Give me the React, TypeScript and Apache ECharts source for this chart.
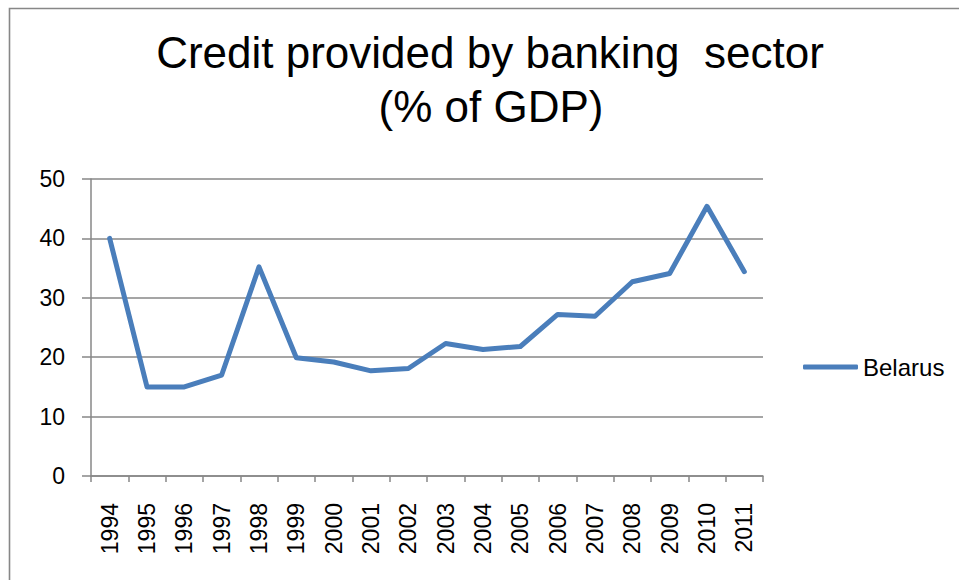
import React, { useEffect, useRef } from "react";
import * as echarts from "echarts";

const years: string[] = [
  "1994", "1995", "1996", "1997", "1998", "1999", "2000", "2001", "2002",
  "2003", "2004", "2005", "2006", "2007", "2008", "2009", "2010", "2011",
];
const belarus: number[] = [
  40.0, 15.0, 15.0, 17.0, 35.2, 19.9, 19.2, 17.7, 18.1,
  22.3, 21.3, 21.8, 27.2, 26.9, 32.7, 34.1, 45.4, 34.4,
];
const seriesName = "Belarus";
const titleLine1 = "Credit provided by banking  sector";
const titleLine2 = "(% of GDP)";
const yMin = 0;
const yMax = 50;
const yStep = 10;

const GRAY = "#878787";
const BLUE = "#4A7EBB";

export default function App() {
  const ref = useRef<HTMLDivElement>(null);
  useEffect(() => {
    if (!ref.current) return;
    const chart = echarts.init(ref.current, undefined, { renderer: "svg" });
    chart.setOption({
      animation: false,
      backgroundColor: "#ffffff",
      graphic: [
        {
          type: "rect",
          shape: { x: 9.5, y: 8.5, width: 1200, height: 1200 },
          style: { fill: "none", stroke: GRAY, lineWidth: 1.6 },
          silent: true,
          z: -10,
        },
        {
          type: "text",
          x: 490,
          y: 74,
          style: {
            text: titleLine1,
            font: "44px 'Liberation Sans', Arial, sans-serif",
            fill: "#000",
            textAlign: "center",
            textVerticalAlign: "bottom",
          },
        },
        {
          type: "text",
          x: 491,
          y: 128,
          style: {
            text: titleLine2,
            font: "44px 'Liberation Sans', Arial, sans-serif",
            fill: "#000",
            textAlign: "center",
            textVerticalAlign: "bottom",
          },
        },
      ],
      legend: {
        data: [seriesName],
        left: 803,
        top: 355,
        padding: 0,
        icon: "roundRect",
        itemWidth: 55,
        itemHeight: 5,
        textStyle: {
          fontFamily: "'Liberation Sans', Arial, sans-serif",
          fontSize: 24,
          color: "#000",
        },
      },
      grid: { left: 91, top: 179, width: 672, height: 297, containLabel: false },
      xAxis: {
        type: "category",
        data: years,
        boundaryGap: true,
        axisLine: { show: true, lineStyle: { color: GRAY, width: 1.5 } },
        axisTick: { show: true, length: 6, interval: 0, alignWithLabel: false, lineStyle: { color: GRAY, width: 1.5 } },
        axisLabel: {
          interval: 0,
          rotate: 90,
          margin: 27,
          fontSize: 23,
          fontFamily: "'Liberation Sans', Arial, sans-serif",
          color: "#000",
        },
        splitLine: { show: false },
      },
      yAxis: {
        type: "value",
        min: yMin,
        max: yMax,
        interval: yStep,
        axisLine: { show: true, lineStyle: { color: GRAY, width: 1.5 } },
        axisTick: { show: true, length: 9, lineStyle: { color: GRAY, width: 1.5 } },
        axisLabel: {
          margin: 26,
          fontSize: 23,
          fontFamily: "'Liberation Sans', Arial, sans-serif",
          color: "#000",
        },
        splitLine: { show: true, lineStyle: { color: GRAY, width: 1.5 } },
      },
      series: [
        {
          name: seriesName,
          type: "line",
          data: belarus,
          symbol: "none",
          smooth: false,
          color: BLUE,
          lineStyle: { color: BLUE, width: 5, cap: "round", join: "round" },
        },
      ],
    });
    return () => chart.dispose();
  }, []);
  return (
    <div
      ref={ref}
      style={{ position: "absolute", left: 0, top: 0, width: 959, height: 580 }}
    />
  );
}
